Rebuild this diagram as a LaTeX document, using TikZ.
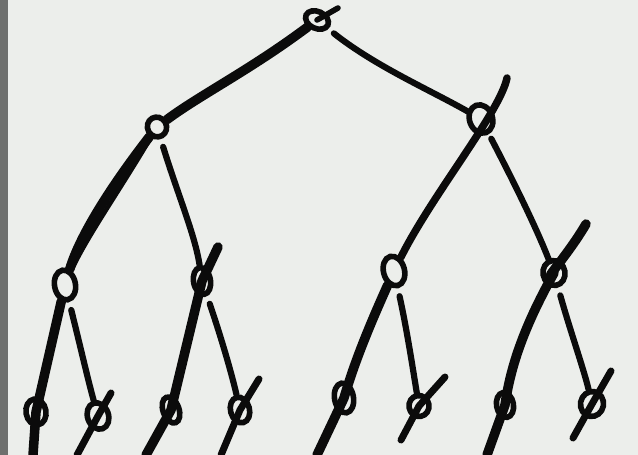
\documentclass[tikz,border=0pt]{standalone}
\usetikzlibrary{shapes.geometric}
\definecolor{bg}{HTML}{ECEEEB}
\definecolor{strip}{HTML}{6E706E}
\definecolor{ink}{HTML}{0B0B0B}
\tikzset{
  knot/.style={ellipse, draw=ink, line width=5.6pt, inner sep=0pt},
  branch/.style={draw=ink, line width=6.2pt, line cap=round, line join=round},
  heavy/.style={branch, line width=9.5pt},
  slash/.style={branch, line width=7pt},
}
\begin{document}
\begin{tikzpicture}[x=1pt,y=-1pt]
\useasboundingbox (0,0) rectangle (638,455);
\fill[bg] (0,0) rectangle (638,455);
\fill[strip] (0,0) rectangle (8,455);
\begin{scope}
\clip (0,0) rectangle (638,455);
% nodes
\node[knot, minimum width=24pt, minimum height=17pt, rotate=-25] (root) at (317,20) {};
\node[knot, minimum width=19pt, minimum height=20pt, rotate=30] (L) at (157,127) {};
\node[knot, minimum width=23pt, minimum height=29pt, rotate=20] (R) at (481,119) {};
\node[knot, minimum width=21pt, minimum height=30pt, rotate=10] (LL) at (65,285) {};
\node[knot, minimum width=17pt, minimum height=27pt, rotate=10] (LR) at (202,281) {};
\node[knot, minimum width=21pt, minimum height=30pt, rotate=15] (RL) at (394,271) {};
\node[knot, minimum width=22pt, minimum height=25pt, rotate=10] (RR) at (554,273) {};
\node[knot, minimum width=20pt, minimum height=26pt, rotate=10] (LLL) at (36,412) {};
\node[knot, minimum width=21pt, minimum height=27pt, rotate=20] (LLR) at (98,416) {};
\node[knot, minimum width=16pt, minimum height=27pt, rotate=20] (LRL) at (171,410) {};
\node[knot, minimum width=19pt, minimum height=26pt, rotate=15] (LRR) at (240,410) {};
\node[knot, minimum width=19pt, minimum height=30pt, rotate=10] (RLL) at (344,398) {};
\node[knot, minimum width=20pt, minimum height=21pt, rotate=10] (RLR) at (419,406) {};
\node[knot, minimum width=17pt, minimum height=25pt, rotate=10] (RRL) at (505,405) {};
\node[knot, minimum width=23pt, minimum height=25pt, rotate=-10] (RRR) at (592,404) {};
% free ends
\coordinate (roottail) at (338,8);
\coordinate (Rtop) at (507,78);
\coordinate (LRtop) at (218,247);
\coordinate (RRtop) at (586,224);
\coordinate (LLLend) at (33,455);
\coordinate (LRLend) at (146,455);
\coordinate (RLLend) at (317,455);
\coordinate (RRLend) at (487,455);
\coordinate (LLRa) at (111,393);
\coordinate (LLRb) at (77,455);
\coordinate (LRRa) at (259,379);
\coordinate (LRRb) at (221,455);
\coordinate (RLRa) at (445,377);
\coordinate (RLRb) at (401,440);
\coordinate (RRRa) at (611,371);
\coordinate (RRRb) at (573,438);
% root
\draw[slash, line width=5.6pt] (root.center) -- (roottail);
\draw[heavy] (root) .. controls (250,70) and (200,95) .. (L);
\draw[branch, shorten <=7pt] (root) .. controls (375,66) and (430,90) .. (R);
% level 1 -> 2
\draw[heavy] (L) .. controls (112,185) and (80,235) .. (LL);
\draw[branch, line width=4.5pt] (L) .. controls (120,190) and (86,238) .. (LL);
\draw[branch, shorten <=8pt] (L) .. controls (178,195) and (195,235) .. (LR);
\draw[slash, line width=7.5pt] (Rtop) .. controls (500,112) and (432,195) .. (RL);
\draw[branch, shorten <=5pt] (R) .. controls (518,190) and (538,232) .. (RR);
% level 2 -> 3
\draw[heavy] (LL) -- (LLL.center) -- (LLLend);
\draw[branch, shorten <=8pt] (LL) .. controls (80,345) and (88,380) .. (LLR);
\draw[heavy] (LRtop) -- (LR.center) -- (LRL.center) -- (LRLend);
\draw[branch, shorten <=8pt] (LR) .. controls (222,340) and (232,375) .. (LRR);
\draw[heavy] (RL) .. controls (372,320) and (355,360) .. (RLL.center) -- (RLLend);
\draw[branch, shorten <=8pt] (RL) .. controls (407,330) and (413,370) .. (RLR);
\draw[heavy] (RRtop) .. controls (568,255) and (540,285) .. (RR.center) .. controls (522,330) and (510,370) .. (RRL.center) -- (RRLend);
\draw[branch, shorten <=8pt] (RR) .. controls (570,330) and (584,370) .. (RRR);
% slashes through right leaves
\draw[slash] (LLRa) -- (LLR.center) -- (LLRb);
\draw[slash] (LRRa) -- (LRR.center) -- (LRRb);
\draw[slash] (RLRa) -- (RLR.center) -- (RLRb);
\draw[slash] (RRRa) -- (RRR.center) -- (RRRb);
\end{scope}
\end{tikzpicture}
\end{document}
